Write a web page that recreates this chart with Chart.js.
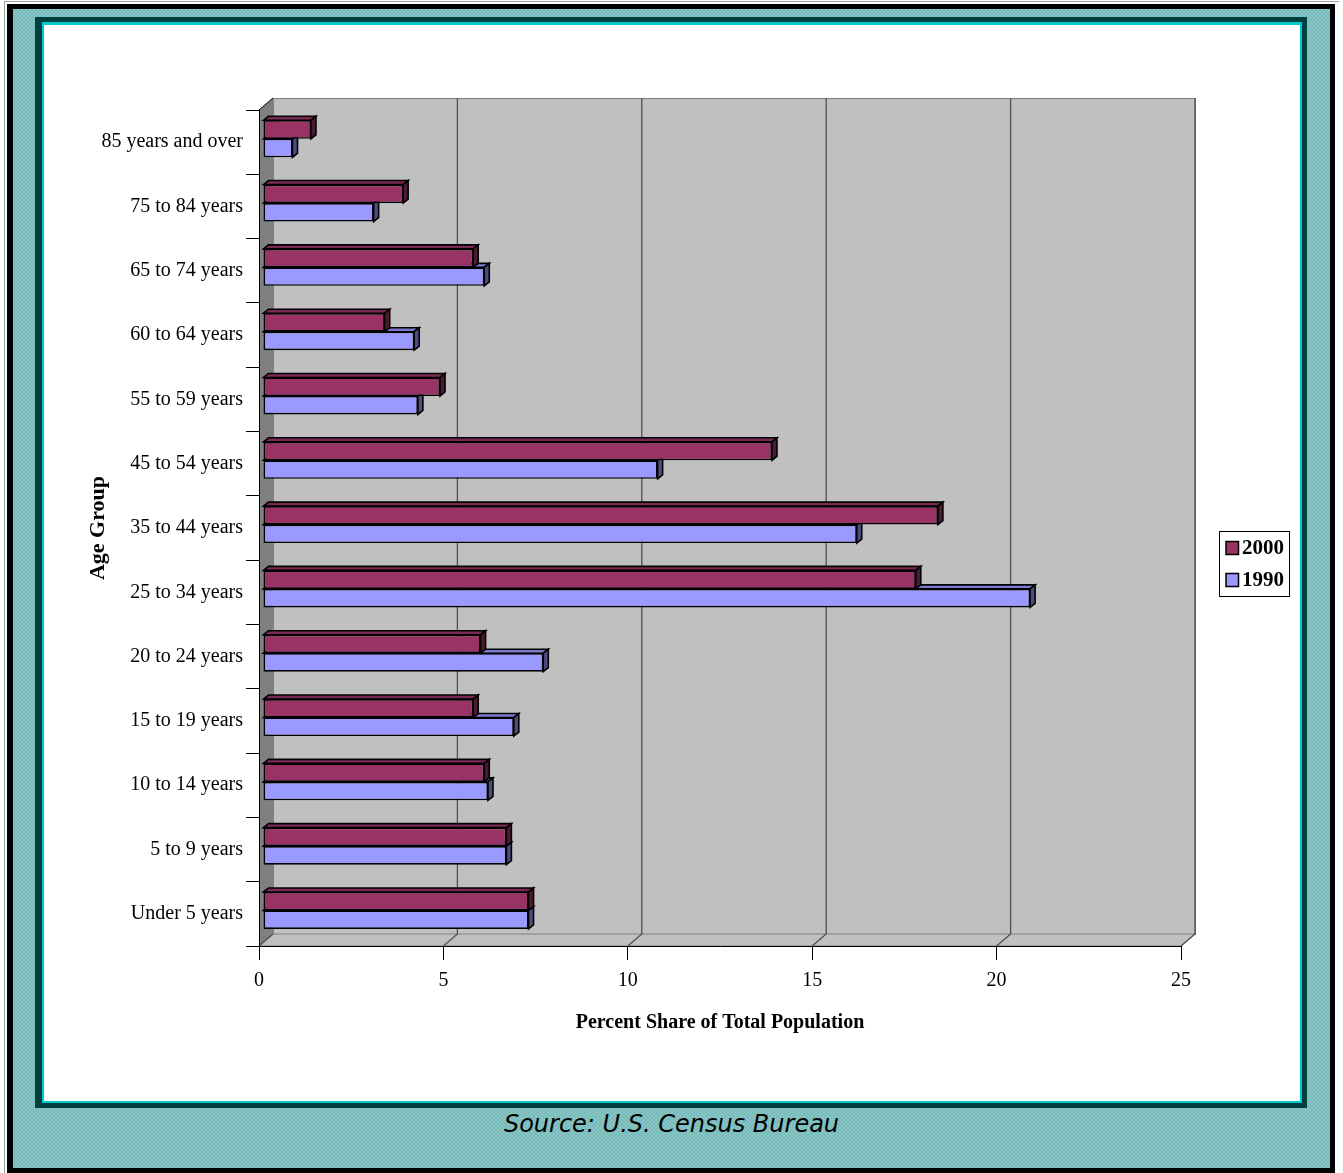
<!DOCTYPE html>
<html>
<head>
<meta charset="utf-8">
<title>Age Group Share</title>
<script src="https://cdn.jsdelivr.net/npm/chart.js@4/dist/chart.umd.min.js"></script>
<style>
    html, body { margin: 0; padding: 0; background: #fff; }
    #page { position: relative; width: 1343px; height: 1173px; overflow: hidden; }
    #edge { position: absolute; left: 4px; top: 1px; width: 1334px; height: 1172px;
        border-left: 1px solid #a0a0a0; border-top: 1px solid #a0a0a0; }
    #outer { position: absolute; left: 7px; top: 4px; width: 1317px; height: 1159px;
        border: 5px solid #000; border-left-width: 6px;
        background-color: #80c0c0;
        background-image: repeating-conic-gradient(#78baba 0 25%, #88c6c6 0 50%);
        background-size: 4px 4px; }
    #shadow { position: absolute; left: 22px; top: 8px; width: 1272px; height: 1091px; background: #004040; }
    #rim { position: absolute; left: 29px; top: 13px; width: 1260px; height: 1081px; background: #00cccc; }
    #panel { position: absolute; left: 31px; top: 16px; width: 1256px; height: 1076px; background: #fff; }
    #source { position: absolute; left: 0; top: 1101px; width: 1317px; line-height: 28px;
        text-align: center; font: italic 24px "DejaVu Sans", Verdana, sans-serif; color: #000; }
</style>
</head>
<body>
<div id="page">
    <div id="edge"></div>
    <div id="outer">
        <div id="shadow"></div>
        <div id="rim"></div>
        <div id="panel"><canvas id="chart" width="1256" height="1076"></canvas></div>
        <div id="source">Source: U.S. Census Bureau</div>
    </div>
</div>
<script>
    var ageGroups = [
        '85 years and over', '75 to 84 years', '65 to 74 years', '60 to 64 years',
        '55 to 59 years', '45 to 54 years', '35 to 44 years', '25 to 34 years',
        '20 to 24 years', '15 to 19 years', '10 to 14 years', '5 to 9 years', 'Under 5 years'
    ];
    var share2000 = [1.3, 3.8, 5.7, 3.3, 4.8, 13.8, 18.3, 17.7, 5.9, 5.7, 6.0, 6.6, 7.2];
    var share1990 = [0.8, 3.0, 6.0, 4.1, 4.2, 10.7, 16.1, 20.8, 7.6, 6.8, 6.1, 6.6, 7.2];
    var seriesNames = ['2000', '1990'];

    var serif = "'Times New Roman', 'Liberation Serif', serif";

    // depth offsets of the fake 3d box: back wall and bar slab
    var wallDX = 14, wallDY = -12;
    var barDX = 4, barDY = -3.4;
    var faceDX = 5, faceDY = -4;

    // back wall, side wall, floor and the grid on them
    var walls = {
        id: 'walls',
        beforeDraw: function( chart ) {
            var ctx = chart.ctx, a = chart.chartArea, x = chart.scales.x;

            ctx.save();
            ctx.lineWidth = 1;
            ctx.strokeStyle = '#808080';

            ctx.fillStyle = '#c0c0c0';
            ctx.fillRect( a.left + wallDX, a.top + wallDY, a.width, a.height );
            ctx.strokeRect( a.left + wallDX + 0.5, a.top + wallDY + 0.5, a.width, a.height );

            // floor
            ctx.beginPath();
            ctx.moveTo( a.left, a.bottom );
            ctx.lineTo( a.left + wallDX, a.bottom + wallDY );
            ctx.lineTo( a.right + wallDX, a.bottom + wallDY );
            ctx.lineTo( a.right, a.bottom );
            ctx.closePath();
            ctx.fill();
            ctx.stroke();

            // side wall
            ctx.fillStyle = '#808080';
            ctx.beginPath();
            ctx.moveTo( a.left, a.top );
            ctx.lineTo( a.left + wallDX, a.top + wallDY );
            ctx.lineTo( a.left + wallDX, a.bottom + wallDY );
            ctx.lineTo( a.left, a.bottom );
            ctx.closePath();
            ctx.fill();
            ctx.strokeStyle = '#000';
            ctx.beginPath();
            ctx.moveTo( a.left, a.top );
            ctx.lineTo( a.left + wallDX, a.top + wallDY );
            ctx.stroke();

            // value grid: up the back wall, then across the floor
            ctx.strokeStyle = '#505050';
            ctx.lineWidth = 1.3;
            x.ticks.forEach( function( t ) {
                var px = x.getPixelForValue( t.value );
                ctx.beginPath();
                if ( t.value > 0 ) {
                    ctx.moveTo( px + wallDX, a.top + wallDY );
                    ctx.lineTo( px + wallDX, a.bottom + wallDY );
                } else {
                    ctx.moveTo( px + wallDX, a.bottom + wallDY );
                }
                ctx.lineTo( px, a.bottom );
                ctx.stroke();
            } );
            ctx.restore();
        }
    };

    // top and end faces of each bar, bars pushed back into the box
    var bars3d = {
        id: 'bars3d',
        beforeDatasetsDraw: function( chart ) {
            var ctx = chart.ctx;
            ctx.save();
            ctx.translate( barDX, barDY );

            for ( var i = chart.data.datasets.length - 1; i >= 0; i-- ) {
                var ds = chart.data.datasets[i];
                chart.getDatasetMeta( i ).data.forEach( function( bar ) {
                    var p = bar.getProps( ['x', 'y', 'base', 'height'], true );
                    var top = p.y - p.height / 2, bottom = p.y + p.height / 2;

                    ctx.lineWidth = 1.6;
                    ctx.strokeStyle = '#000';
                    ctx.lineJoin = 'miter';

                    ctx.beginPath();
                    ctx.moveTo( p.base, top );
                    ctx.lineTo( p.base + faceDX, top + faceDY );
                    ctx.lineTo( p.x + faceDX, top + faceDY );
                    ctx.lineTo( p.x, top );
                    ctx.closePath();
                    ctx.fillStyle = ds.topColor;
                    ctx.fill();
                    ctx.stroke();

                    ctx.beginPath();
                    ctx.moveTo( p.x, top );
                    ctx.lineTo( p.x + faceDX, top + faceDY );
                    ctx.lineTo( p.x + faceDX, bottom + faceDY );
                    ctx.lineTo( p.x, bottom );
                    ctx.closePath();
                    ctx.fillStyle = ds.sideColor;
                    ctx.fill();
                    ctx.stroke();
                } );
            }
        },
        afterDatasetsDraw: function( chart ) {
            chart.ctx.restore();
        }
    };

    // boxed legend on the right
    var boxLegend = {
        id: 'boxLegend',
        afterDraw: function( chart ) {
            var ctx = chart.ctx, a = chart.chartArea;
            var left = a.right + 38, top = ( a.top + a.bottom ) / 2 + 3;

            ctx.save();
            ctx.strokeStyle = '#000';
            ctx.lineWidth = 1;
            ctx.strokeRect( left + 0.5, top + 0.5, 70, 65 );

            ctx.font = 'bold 21px ' + serif;
            ctx.textBaseline = 'middle';
            ctx.textAlign = 'left';
            chart.data.datasets.forEach( function( ds, i ) {
                var cy = top + 17 + i * 32;
                ctx.fillStyle = ds.backgroundColor;
                ctx.fillRect( left + 7, cy - 6.5, 12.5, 13 );
                ctx.lineWidth = 1.5;
                ctx.strokeRect( left + 7, cy - 6.5, 12.5, 13 );
                ctx.fillStyle = '#000';
                ctx.fillText( ds.label, left + 23, cy + 1 );
            } );
            ctx.restore();
        }
    };

    var canvas = document.getElementById( 'chart' );

    new Chart( canvas, {
        type: 'bar',
        data: {
            labels: ageGroups,
            datasets: [
                {
                    label: seriesNames[0],
                    data: share2000,
                    backgroundColor: '#993366',
                    topColor: '#7a2952',
                    sideColor: '#4d1a33',
                    borderColor: '#000',
                    borderWidth: 1.6,
                    borderSkipped: false
                },
                {
                    label: seriesNames[1],
                    data: share1990,
                    backgroundColor: '#9999ff',
                    topColor: '#7a7acc',
                    sideColor: '#4d4d80',
                    borderColor: '#000',
                    borderWidth: 1.6,
                    borderSkipped: false
                }
            ]
        },
        options: {
            indexAxis: 'y',
            responsive: false,
            animation: false,
            categoryPercentage: 0.575,
            barPercentage: 1.0,
            layout: {
                padding: { left: 41, top: 85, right: 119, bottom: 66 }
            },
            plugins: {
                legend: { display: false },
                tooltip: { enabled: false }
            },
            scales: {
                x: {
                    min: 0,
                    max: 25,
                    ticks: {
                        stepSize: 5,
                        padding: 9,
                        color: '#000',
                        font: { family: serif, size: 20 }
                    },
                    grid: {
                        drawOnChartArea: false,
                        drawTicks: true,
                        tickLength: 14,
                        color: '#000'
                    },
                    border: { display: true, color: '#000', width: 1 },
                    title: {
                        display: true,
                        text: 'Percent Share of Total Population',
                        color: '#000',
                        padding: 0,
                        font: { family: serif, size: 20, weight: 'bold' }
                    },
                    afterFit: function( scale ) {
                        scale.height = 89;
                    }
                },
                y: {
                    ticks: {
                        padding: 3,
                        color: '#000',
                        font: { family: serif, size: 20 }
                    },
                    grid: {
                        drawOnChartArea: false,
                        drawTicks: true,
                        tickLength: 13,
                        color: '#000'
                    },
                    border: { display: true, color: '#000', width: 1 },
                    title: {
                        display: true,
                        text: 'Age Group',
                        color: '#000',
                        padding: 0,
                        font: { family: serif, size: 22, weight: 'bold' }
                    },
                    afterFit: function( scale ) {
                        scale.width = 174;
                    }
                }
            }
        },
        plugins: [walls, bars3d, boxLegend]
    } );
</script>
</body>
</html>
